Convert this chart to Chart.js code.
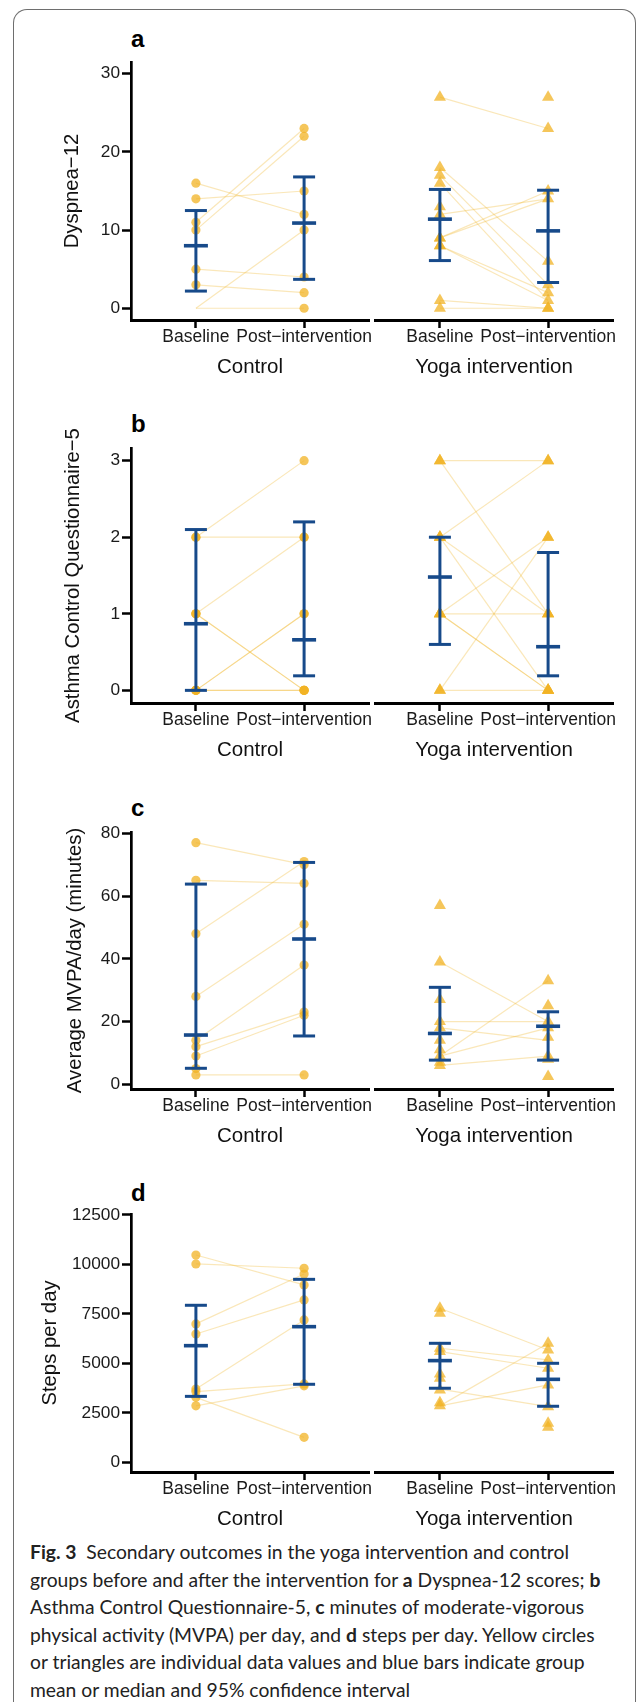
<!DOCTYPE html>
<html>
<head>
<meta charset="utf-8">
<script src="https://cdn.jsdelivr.net/npm/chart.js@4.4.0/dist/chart.umd.min.js"></script>
<style>
  body { margin: 0; width: 637px; height: 1702px; background: #fff; position: relative; overflow: hidden;
         font-family: "Liberation Sans", Arial, sans-serif; }
  .frame { position: absolute; left: 13px; top: 9px; width: 623px; height: 1700px;
           border: 1px solid #6e6e6e; border-bottom: none; border-radius: 14px 14px 0 0; box-sizing: border-box; }
  .tag { position: absolute; left: 131px; font-weight: bold; font-size: 24px; line-height: 24px; color: #000; }
  canvas { position: absolute; }
  .caption { position: absolute; left: 30px; top: 1538px; margin: 0; white-space: nowrap;
             font-family: Lato, "Open Sans", sans-serif; font-size: 19.3px; line-height: 27.5px; color: #222; }
  .caption b { font-weight: bold; }
</style>
</head>
<body>
<div class="frame"></div>

<script>
// Axis labels shared by every panel
const groupNames = ['Control', 'Yoga intervention'];
const timeLabels = ['Baseline', 'Post\u2212intervention'];

// ---- a: Dyspnea-12 ----
const dyspTicks = [0, 10, 20, 30];
const dyspCtrlPre = [16, 14, 11, 10, 5, 3];
const dyspCtrlPost = [23, 22, 15, 12, 10, 4, 2, 0];
const dyspCtrlLinks = [[16, 12], [14, 15], [11, 23], [10, 22], [5, 4], [3, 2], [0, 10], [0, 0]];
const dyspCtrlBars = [[2.2, 8.0, 12.5], [3.7, 10.9, 16.8]]; // [low, centre, high] baseline / post
const dyspYogaPre = [27, 18, 17, 16, 13, 12, 9, 9, 8, 8, 1, 0];
const dyspYogaPost = [27, 23, 15, 14, 6, 3, 2, 1, 0, 0];
const dyspYogaLinks = [[27, 23], [18, 6], [17, 3], [16, 1], [12, 14], [9, 15], [9, 14], [8, 2], [8, 1], [1, 0], [0, 0]];
const dyspYogaBars = [[6.1, 11.4, 15.2], [3.3, 9.9, 15.1]];

// ---- b: Asthma Control Questionnaire-5 ----
const acqTicks = [0, 1, 2, 3];
const acqCtrlPre = [2, 2, 1, 1, 1, 0, 0, 0, 0];
const acqCtrlPost = [3, 2, 2, 1, 1, 0, 0, 0, 0];
const acqCtrlLinks = [[2, 3], [2, 2], [1, 2], [1, 0], [1, 0], [0, 1], [0, 1], [0, 0], [0, 0]];
const acqCtrlBars = [[0, 0.87, 2.1], [0.19, 0.66, 2.2]];
const acqYogaPre = [3, 3, 2, 2, 2, 1, 1, 1, 1, 0, 0];
const acqYogaPost = [3, 3, 2, 2, 1, 1, 1, 0, 0, 0, 0];
const acqYogaLinks = [[3, 3], [3, 1], [2, 3], [2, 1], [2, 0], [1, 2], [1, 1], [1, 0], [1, 0], [0, 2], [0, 0]];
const acqYogaBars = [[0.6, 1.48, 2.0], [0.19, 0.57, 1.8]];

// ---- c: Average MVPA/day (minutes) ----
const mvpaTicks = [0, 20, 40, 60, 80];
const mvpaCtrlPre = [77, 65, 48, 28, 14, 12, 9, 5, 3];
const mvpaCtrlPost = [71, 70, 64, 51, 38, 23, 22, 3];
const mvpaCtrlLinks = [[77, 70], [65, 64], [48, 71], [28, 51], [14, 38], [12, 23], [9, 22], [3, 3]];
const mvpaCtrlBars = [[5.1, 15.7, 63.8], [15.4, 46.3, 70.7]];
const mvpaYogaPre = [57, 39, 27, 20, 18, 14, 11, 9, 7, 6];
const mvpaYogaPost = [33, 25, 20, 18, 15, 9, 8, 2.5];
const mvpaYogaLinks = [[39, 20], [20, 20], [18, 14], [9, 33], [9, 18], [6, 9]];
const mvpaYogaBars = [[7.7, 16.2, 30.9], [7.7, 18.5, 23.1]];

// ---- d: Steps per day ----
const stepTicks = [0, 2500, 5000, 7500, 10000, 12500];
const stepCtrlPre = [10470, 10020, 6990, 6480, 3700, 3570, 3280, 2850];
const stepCtrlPost = [9800, 9510, 8960, 8200, 7190, 3960, 3860, 1260];
const stepCtrlLinks = [[10470, 8960], [10020, 9800], [6990, 9510], [6480, 8200], [3700, 7190], [3570, 3960], [2850, 3860], [3280, 1260]];
const stepCtrlBars = [[3330, 5890, 7930], [3940, 6850, 9240]];
const stepYogaPre = [7780, 7530, 5760, 5590, 4460, 4240, 3650, 3010, 2850];
const stepYogaPost = [6010, 5670, 5170, 4750, 3910, 2810, 1970, 1770];
const stepYogaLinks = [[7780, 5670], [5760, 5170], [5590, 4750], [3700, 2810], [2850, 6010], [2850, 3910]];
const stepYogaBars = [[3740, 5135, 6010], [2830, 4190, 5000]];

// colours / sizes
const BLUE = '#174a8a';
const DOT = 'rgba(241,179,36,0.75)';
const LINK = 'rgba(241,179,36,0.32)';
const FONT = '"Liberation Sans", Arial, sans-serif';
const PAD_T = 20;       // room above each plot area
const X_AXIS_H = 62;    // tick labels + group title below each plot area
const AXIS_X = 131;     // y axis position
const LEFT_END = 369, RIGHT_START = 375, RIGHT_END = 613;

// panel layout (pixel positions of plot areas, value ranges)
const panels = [
  { tag: 'a', tagTop: 27, title: 'Dyspnea\u221212', ticks: dyspTicks, min: -1.5, max: 31.5, top: 62, bottom: 319.5, titleX: 72,
    groups: [[dyspCtrlPre, dyspCtrlPost, dyspCtrlLinks, dyspCtrlBars], [dyspYogaPre, dyspYogaPost, dyspYogaLinks, dyspYogaBars]] },
  { tag: 'b', tagTop: 412, title: 'Asthma Control Questionnaire\u22125', ticks: acqTicks, min: -0.165, max: 3.165, top: 448, bottom: 702.6, titleX: 73,
    groups: [[acqCtrlPre, acqCtrlPost, acqCtrlLinks, acqCtrlBars], [acqYogaPre, acqYogaPost, acqYogaLinks, acqYogaBars]] },
  { tag: 'c', tagTop: 796, title: 'Average MVPA/day (minutes)', ticks: mvpaTicks, min: -1.5, max: 80.4, top: 831.5, bottom: 1088, titleX: 75,
    groups: [[mvpaCtrlPre, mvpaCtrlPost, mvpaCtrlLinks, mvpaCtrlBars], [mvpaYogaPre, mvpaYogaPost, mvpaYogaLinks, mvpaYogaBars]] },
  { tag: 'd', tagTop: 1181, title: 'Steps per day', ticks: stepTicks, min: -490, max: 12540, top: 1214, bottom: 1472, titleX: 50,
    groups: [[stepCtrlPre, stepCtrlPost, stepCtrlLinks, stepCtrlBars], [stepYogaPre, stepYogaPost, stepYogaLinks, stepYogaBars]] }
];

function buildDatasets(pre, post, links, bars, shape) {
  const ds = [];
  // thin connecting lines, one per participant
  links.forEach(([a, b]) => ds.push({
    type: 'line', data: [{ x: 1, y: a }, { x: 2, y: b }],
    borderColor: LINK, borderWidth: 1.2, pointRadius: 0, order: 3
  }));
  // individual values
  ds.push({
    type: 'scatter',
    data: pre.map(v => ({ x: 1, y: v })).concat(post.map(v => ({ x: 2, y: v }))),
    pointStyle: shape, pointRadius: shape === 'triangle' ? 7 : 4.6,
    backgroundColor: DOT, borderWidth: 0, order: 2
  });
  // centre + 95% CI
  bars.forEach(([lo, mid, hi], i) => {
    const x = i + 1;
    ds.push({ type: 'line', data: [{ x, y: lo }, { x, y: hi }], borderColor: BLUE, borderWidth: 3, pointRadius: 0, order: 1 });
    ds.push({ type: 'scatter', data: [{ x, y: lo }, { x, y: hi }], pointStyle: 'line', pointRadius: 11,
              borderColor: BLUE, backgroundColor: BLUE, borderWidth: 3, order: 0 });
    ds.push({ type: 'scatter', data: [{ x, y: mid }], pointStyle: 'line', pointRadius: 12,
              borderColor: BLUE, backgroundColor: BLUE, borderWidth: 3.6, order: 0 });
  });
  return ds;
}

function makeCanvas(left, top, w, h) {
  const c = document.createElement('canvas');
  c.width = w; c.height = h;
  c.style.left = left + 'px'; c.style.top = top + 'px';
  c.style.width = w + 'px'; c.style.height = h + 'px';
  document.body.appendChild(c);
  return c;
}

panels.forEach(p => {
  const tag = document.createElement('div');
  tag.className = 'tag';
  tag.style.top = p.tagTop + 'px';
  tag.textContent = p.tag;
  document.body.appendChild(tag);

  const canvasTop = p.top - PAD_T;
  const h = Math.round(PAD_T + (p.bottom - p.top) + X_AXIS_H);

  p.groups.forEach(([pre, post, links, bars], gi) => {
    const left = gi === 0 ? 0 : RIGHT_START - 20;
    const w = gi === 0 ? 400 : 637 - left;
    const padding = gi === 0
      ? { top: PAD_T, left: 0, right: w - LEFT_END, bottom: 0 }
      : { top: PAD_T, left: RIGHT_START - left, right: left + w - RIGHT_END, bottom: 0 };
    const canvas = makeCanvas(left, canvasTop, w, h);

    new Chart(canvas, {
      type: 'scatter',
      data: { datasets: buildDatasets(pre, post, links, bars, gi === 0 ? 'circle' : 'triangle') },
      options: {
        responsive: false,
        animation: false,
        devicePixelRatio: 1,
        layout: { padding: padding },
        plugins: { legend: { display: false }, tooltip: { enabled: false } },
        elements: { point: { hoverRadius: 0 } },
        clip: false,
        scales: {
          x: {
            type: 'linear', min: 0.4, max: 2.6,
            afterBuildTicks: s => { s.ticks = [{ value: 1 }, { value: 2 }]; },
            afterFit: s => { s.height = X_AXIS_H; },
            ticks: {
              callback: (v, i) => timeLabels[i],
              autoSkip: false, maxRotation: 0, minRotation: 0, padding: -1,
              color: '#1a1a1a', font: { family: FONT, size: 17.5 }
            },
            grid: { drawOnChartArea: false, drawTicks: true, tickLength: 8, tickWidth: 2.5, tickColor: '#000' },
            border: { display: true, color: '#000', width: 3 },
            title: { display: true, text: groupNames[gi], color: '#111',
                     font: { family: FONT, size: 20.5 }, padding: { top: 0, bottom: 2 } }
          },
          y: {
            display: gi === 0,
            min: p.min, max: p.max,
            afterBuildTicks: s => { s.ticks = p.ticks.map(v => ({ value: v })); },
            afterFit: s => { s.width = gi === 0 ? AXIS_X : 0; },
            ticks: { callback: v => String(v), padding: 2, color: '#1a1a1a', font: { family: FONT, size: 17.3 } },
            grid: { drawOnChartArea: false, drawTicks: true, tickLength: 9, tickWidth: 2.5, tickColor: '#000' },
            border: { display: true, color: '#000', width: 2.7 },
            title: { display: true, text: p.title, color: '#111',
                     font: { family: FONT, size: 20.3 }, padding: { top: p.titleX - 12, bottom: 0 } }
          }
        }
      }
    });
  });
});
</script>

<p class="caption"><b>Fig. 3</b>&nbsp; Secondary outcomes in the yoga intervention and control<br>groups before and after the intervention for <b>a</b> Dyspnea-12 scores; <b>b</b><br>Asthma Control Questionnaire-5, <b>c</b> minutes of moderate-vigorous<br>physical activity (MVPA) per day, and <b>d</b> steps per day. Yellow circles<br>or triangles are individual data values and blue bars indicate group<br>mean or median and 95% confidence interval</p>
</body>
</html>
